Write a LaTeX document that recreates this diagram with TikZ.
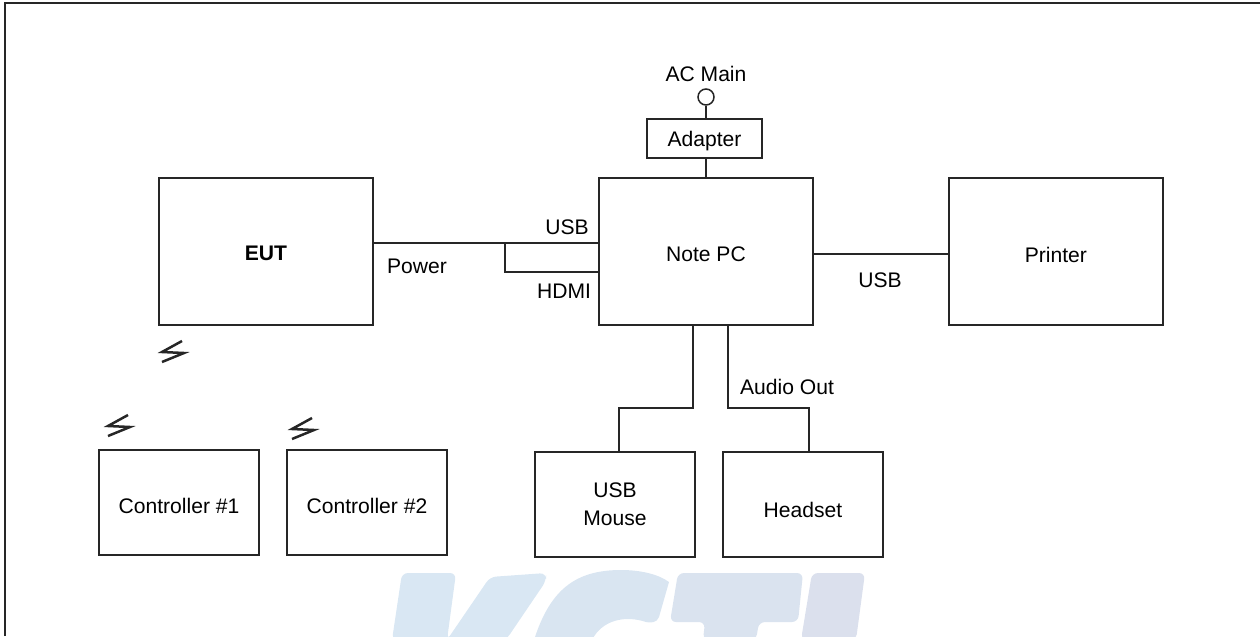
\documentclass[tikz,border=0pt]{standalone}
\usepackage{fontspec}
\setmainfont{Liberation Sans}
\usetikzlibrary{positioning}
\definecolor{markK}{HTML}{D9E7F3}
\definecolor{markC}{HTML}{D9E5F1}
\definecolor{markT}{HTML}{DAE3EF}
\definecolor{markL}{HTML}{DBE0ED}
\colorlet{edgegray}{black!85}
\tikzstyle{bigbox}=[draw=edgegray,line width=.04cm,minimum width=4.28cm,minimum height=2.94cm]
\tikzstyle{smallbox}=[draw=edgegray,line width=.04cm,minimum width=3.2cm,minimum height=2.1cm,align=center]
\tikzstyle{wire}=[draw=edgegray,line width=.04cm]
\tikzstyle{txt}=[inner sep=0pt,font=\fontsize{12}{15.9}\selectfont]
\tikzstyle{sunk}=[text height=#1,text depth=0pt]
\tikzstyle{logopart}=[rounded corners=.12cm]
\tikzset{zap/.pic={\draw[line width=.05cm,black!85] (10,-11) -- (-10,0) -- (12,1) -- (-10,10);}}

\begin{document}
\begin{tikzpicture}[on grid, node distance=8.8cm, x=.02cm, y=-.02cm]
  \useasboundingbox (0,0) rectangle (1260,636);
  \begin{scope}
    \clip (0,0) rectangle (1260,636);
    \fill[logopart, markK] (392,640) -- (402,573) -- (456,573) -- (447,640) -- (490,577) -- (546,573) -- (546,581) -- (506,640) -- cycle;
    \fill[markC] (534,640) .. controls (550,590) and (575,570) .. (621,570) .. controls (640,570) and (658,574) .. (669,582) -- (659,617) .. controls (657,623) and (650,623) .. (646,622) .. controls (625,615) and (602,620) .. (592,640) -- cycle;
    \fill[logopart, markT] (678,573) -- (803,573) -- (798,622) -- (759,622) -- (756,640) -- (703,640) -- (705,622) -- (670,622) -- cycle;
    \fill[logopart, markL] (812,573) -- (865,573) -- (856,640) -- (801,640) -- cycle;
  \end{scope}
  \draw[wire] (5,636) -- (5,3) -- (1260,3);

  \node[bigbox, txt, sunk=.34cm] (eut) at (266,251.5) {\textbf{EUT}};
  \node[bigbox, txt, sunk=.38cm, right=of eut] (pc) {Note PC};
  \node[bigbox, txt, sunk=.42cm, right=7cm of pc] (printer) {Printer};
  \node[draw=edgegray, line width=.04cm, txt, sunk=.3cm, minimum width=2.3cm, minimum height=.78cm] (adapter) at (704.5,138.5) {Adapter};
  \node[draw=edgegray, line width=.03cm, circle, inner sep=0pt, minimum size=.32cm] (ac) at (706,97) {};
  \node[txt, above=.46cm of ac] (acmain) {AC Main};

  \node[smallbox, txt, sunk=.42cm] (ctrl1) at (179,502.5) {Controller \#1};
  \node[smallbox, txt, sunk=.42cm, right=3.76cm of ctrl1] (ctrl2) {Controller \#2};
  \node[smallbox, txt] (mouse) at (615,504.5) {USB\\Mouse};
  \node[smallbox, txt, sunk=.52cm, right=3.76cm of mouse] (headset) {Headset};

  \coordinate (pwr) at (373,243);
  \coordinate (usbin) at (598,243);
  \coordinate (hdmiin) at (598,272);
  \draw[wire] (pwr) -- (usbin);
  \draw[wire] (505,243) -- (505,272) -- (hdmiin);
  \draw[wire] (812,253.5) -- (948,253.5);
  \draw[wire] (ac) -- (adapter.north -| ac);
  \draw[wire] (adapter.south -| ac) -- (pc.north -| ac);
  \draw[wire] (693,325) -- (693,408) -- (619,408) -- (619,452);
  \draw[wire] (728,325) -- (728,408) -- (809,408) -- (809,452);

  \node[txt] (usb1) at (567,227) {USB};
  \node[txt] (hdmi) at (564,291) {HDMI};
  \node[txt] (power) at (417,266) {Power};
  \node[txt] (usb2) at (880,280) {USB};
  \node[txt] (audio) at (787,387) {Audio Out};

  \pic at (172,352) {zap};
  \pic at (118,426) {zap};
  \pic at (302,429) {zap};
\end{tikzpicture}
\end{document}
